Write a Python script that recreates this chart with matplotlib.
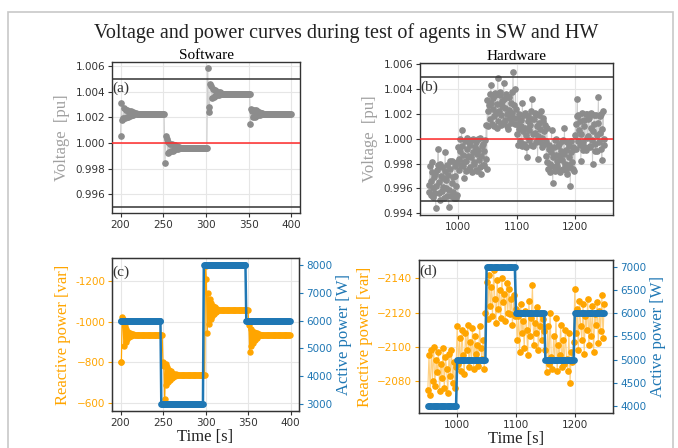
import numpy as np
import matplotlib
matplotlib.use("Agg")
import matplotlib.pyplot as plt
from matplotlib.patches import Rectangle

# ---------------- Software data (1 s samples, t = 200..399) ----------------
sw_time = np.arange(200, 400)
sw_voltage = (
    [1.00057, 1.00310, 1.00175, 1.00190, 1.00270, 1.00190, 1.00260, 1.00200, 1.00255, 1.00205,
     1.00250, 1.00210, 1.00245, 1.00215, 1.00240, 1.00220, 1.00235, 1.00222, 1.00230, 1.00225]
    + [1.00226] * 32
    + [0.99842, 1.00057, 1.00030, 0.99925, 1.00010, 0.99930, 0.99995, 0.99935, 0.99990, 0.99940,
       0.99985, 0.99945, 0.99980, 0.99950, 0.99972, 0.99955, 0.99965, 0.99958]
    + [0.99962] * 32
    + [1.00584, 1.00240, 1.00280, 1.00455, 1.00440, 1.00350, 1.00420, 1.00360, 1.00410, 1.00365,
       1.00405, 1.00370, 1.00400, 1.00375, 1.00395, 1.00378, 1.00390, 1.00380]
    + [1.00384] * 32
    + [1.00148, 1.00265, 1.00250, 1.00200, 1.00260, 1.00205, 1.00255, 1.00210, 1.00250, 1.00215,
       1.00242, 1.00220, 1.00235, 1.00222, 1.00230]
    + [1.00226] * 33
)
sw_reactive = (
    [-800, -800, -1020, -1010, -880, -980, -900, -965, -915, -950,
     -925, -945, -930, -940, -933, -937]
    + [-935] * 34
    + [-800, -780, -620, -790, -690, -775, -705, -765, -715, -757,
       -722, -750, -728, -745, -732, -742]
    + [-738] * 34
    + [-1270, -1210, -945, -1140, -990, -1110, -1010, -1090, -1025, -1078,
       -1035, -1070, -1045, -1063, -1050]
    + [-1055] * 36
    + [-985, -850, -965, -880, -955, -895, -950, -910, -946, -920,
       -942, -928, -938]
    + [-935] * 36
)
sw_active = [6000] * 48 + [3000] * 50 + [8000] * 50 + [6000] * 52

# ---------------- Hardware data ----------------
hw_v_time = np.arange(950, 1251)          # 1 s samples
hw_voltage = [
    # 950-999
    0.9963, 0.9957, 0.9978, 0.9966, 0.9955, 0.9973, 0.9981, 0.9960, 0.9953, 0.9969,
    0.9972, 0.9956, 0.9944, 0.9962, 0.9975, 0.9979, 0.9992, 0.9965, 0.9956, 0.9951,
    0.9980, 0.9970, 0.9958, 0.9977, 0.9968, 0.9961, 0.9952, 0.9974, 0.9989, 0.9967,
    0.9960, 0.9954, 0.9979, 0.9971, 0.9945, 0.9959, 0.9976, 0.9982, 0.9954, 0.9964,
    0.9982, 0.9969, 0.9957, 0.9952, 0.9970, 0.9978, 0.9952, 0.9962, 0.9981, 0.9955,
    # 1000-1049
    0.9993, 0.9984, 0.9975, 0.9990, 1.0000, 0.9979, 1.0007, 0.9994, 0.9978, 0.9987,
    0.9968, 0.9981, 0.9998, 0.9974, 0.9982, 0.9992, 1.0001, 0.9986, 0.9976, 0.9997,
    0.9995, 0.9977, 0.9985, 0.9999, 0.9973, 0.9989, 1.0000, 0.9981, 0.9980, 0.9993,
    0.9997, 0.9975, 0.9974, 0.9988, 0.9991, 1.0000, 0.9983, 0.9977, 1.0001, 0.9986,
    0.9972, 0.9994, 0.9996, 0.9979, 0.9979, 0.9990, 0.9999, 0.9984, 1.0011, 0.9976,
    # 1050-1099
    1.0031, 1.0022, 1.0010, 1.0027, 1.0036, 1.0016, 1.0043, 1.0029, 1.0012, 1.0024,
    1.0033, 1.0010, 1.0018, 1.0035, 1.0037, 1.0021, 1.0009, 1.0028, 1.0049, 1.0014,
    1.0022, 1.0038, 1.0035, 1.0019, 1.0011, 1.0026, 1.0030, 1.0013, 1.0045, 1.0032,
    1.0015, 1.0025, 1.0036, 1.0010, 1.0020, 1.0034, 1.0008, 1.0023, 1.0034, 1.0017,
    1.0013, 1.0029, 1.0038, 1.0021, 1.0054, 1.0027, 1.0017, 1.0012, 1.0040, 1.0024,
    # 1100-1149
    1.0012, 1.0004, 0.9995, 1.0017, 1.0020, 1.0008, 0.9998, 1.0010, 1.0015, 0.9994,
    1.0029, 1.0006, 0.9996, 1.0019, 1.0021, 1.0009, 1.0003, 0.9993, 0.9985, 1.0014,
    1.0018, 1.0007, 0.9999, 1.0011, 1.0022, 0.9995, 1.0032, 1.0016, 0.9994, 1.0004,
    1.0016, 1.0021, 1.0005, 0.9997, 1.0020, 1.0010, 0.9984, 1.0002, 1.0013, 1.0019,
    0.9997, 1.0008, 1.0022, 0.9993, 1.0001, 1.0014, 1.0017, 1.0006, 0.9996, 1.0011,
    # 1150-1199
    0.9998, 0.9986, 1.0009, 0.9981, 0.9976, 0.9992, 0.9995, 0.9973, 0.9980, 0.9989,
    1.0007, 0.9978, 0.9964, 0.9985, 0.9993, 0.9999, 0.9974, 0.9987, 1.0000, 0.9982,
    0.9978, 0.9994, 0.9996, 0.9975, 0.9973, 0.9986, 0.9990, 0.9998, 0.9983, 0.9976,
    0.9999, 0.9988, 1.0009, 0.9980, 0.9975, 0.9991, 0.9997, 0.9972, 0.9979, 0.9985,
    0.9994, 0.9977, 0.9962, 0.9989, 0.9998, 0.9981, 0.9976, 0.9993, 0.9992, 0.9974,
    # 1200-1250
    1.0003, 1.0012, 0.9992, 1.0018, 1.0032, 0.9998, 1.0019, 1.0007, 0.9995, 1.0014,
    0.9982, 1.0004, 1.0021, 0.9991, 0.9997, 1.0010, 1.0015, 0.9993, 0.9991, 1.0020,
    1.0020, 1.0001, 1.0002, 1.0016, 1.0017, 0.9994, 0.9993, 1.0009, 1.0021, 0.9999,
    0.9980, 1.0006, 1.0012, 1.0019, 0.9996, 0.9990, 1.0019, 1.0003, 0.9990, 1.0013,
    1.0034, 0.9997, 1.0005, 1.0018, 1.0020, 0.9992, 0.9983, 1.0008, 1.0022, 1.0000,
    0.9995,
]
hw_q_time = np.arange(950, 1252, 2)       # 2 s samples
hw_reactive = [
    -2075, -2095, -2072, -2098, -2080, -2100, -2077, -2092, -2085, -2097,
    -2074, -2090, -2082, -2099, -2076, -2094, -2087, -2073, -2096, -2083,
    -2098, -2079, -2091, -2076, -2088,
    -2112, -2090, -2105, -2086, -2110, -2095, -2084, -2108, -2098, -2113,
    -2088, -2103, -2092, -2111, -2087, -2106, -2096, -2101, -2089, -2112,
    -2099, -2093, -2104, -2087, -2120,
    -2138, -2116, -2142, -2124, -2135, -2118, -2145, -2128, -2114, -2139,
    -2122, -2133, -2117, -2140, -2126, -2131, -2115, -2137, -2120, -2134,
    -2119, -2128, -2113, -2130, -2118,
    -2122, -2104, -2118, -2097, -2125, -2108, -2115, -2099, -2121, -2110,
    -2095, -2127, -2106, -2117, -2136, -2101, -2114, -2108, -2123, -2098,
    -2112, -2119, -2104, -2116, -2109,
    -2098, -2085, -2112, -2090, -2120, -2094, -2087, -2106, -2092, -2117,
    -2086, -2101, -2095, -2113, -2088, -2104, -2090, -2110, -2093, -2086,
    -2108, -2079, -2097, -2091, -2103,
    -2134, -2108, -2122, -2098, -2127, -2112, -2104, -2125, -2096, -2118,
    -2110, -2128, -2101, -2120, -2106, -2124, -2097, -2119, -2113, -2126,
    -2102, -2121, -2109, -2130, -2105, -2125,
]
hw_active = [4000] * 25 + [5000] * 25 + [7000] * 25 + [6000] * 25 + [5000] * 25 + [6000] * 26

# ---------------- styling ----------------
GRAY = "#8c8c8c"
LGRAY = "#cfcfcf"
ORANGE = "#ffa500"
BLUE = "#1f77b4"
RED = "#ff2a2a"
LABEL_GRAY = "#a0a0a0"
SERIF = ["Liberation Serif", "DejaVu Serif"]
TICK_FS = 7.5

W, H = 678, 448
fig = plt.figure(figsize=(W / 100, H / 100), dpi=100)
fig.patch.set_facecolor("white")

# light frame around the figure
fig.add_artist(Rectangle((8 / W, -0.02), 665 / W, 1 - 12 / H + 0.02,
                         transform=fig.transFigure, fill=False,
                         edgecolor="#c8c8c8", lw=1.2))


def fig_axes(l, t, r, b):
    return fig.add_axes([l / W, 1 - b / H, (r - l) / W, (b - t) / H])


def style(ax, left_color="#333333"):
    ax.grid(True, color="#e6e6e6", lw=0.8)
    ax.set_axisbelow(True)
    for s in ax.spines.values():
        s.set_color("#333333")
        s.set_linewidth(1.0)
    ax.tick_params(axis="x", labelsize=TICK_FS, colors="#333333", length=3, width=0.8, pad=2)
    ax.tick_params(axis="y", labelsize=TICK_FS, colors=left_color, length=3, width=0.8, pad=2)


axa = fig_axes(112, 62, 300, 213)
axb = fig_axes(420, 63, 613, 215)
axc = fig_axes(112, 258, 299, 411)
axd = fig_axes(419, 260, 613, 413)

# ---- (a) Software voltage
style(axa, "#333333")
axa.plot(sw_time, sw_voltage, color=LGRAY, lw=0.8, zorder=2)
axa.plot(sw_time, sw_voltage, "o", color=GRAY, ms=3.8, mec=GRAY, zorder=3)
axa.axhline(1.0, color=RED, lw=1.1, zorder=4)
axa.axhline(1.005, color="#333333", lw=1.1, zorder=4)
axa.axhline(0.995, color="#333333", lw=1.1, zorder=4)
axa.set_xlim(190, 410)
axa.set_ylim(0.99454, 1.0063)
axa.set_xticks([200, 250, 300, 350, 400])
axa.set_yticks([0.996, 0.998, 1.000, 1.002, 1.004, 1.006])
axa.set_yticklabels(["0.996", "0.998", "1.000", "1.002", "1.004", "1.006"])
axa.set_ylabel("Voltage  [pu]", family=SERIF, fontsize=12, color=LABEL_GRAY, labelpad=4)
axa.set_title("Software", family=SERIF, fontsize=11, pad=2)
axa.text(0.0, 0.868, "(a)", transform=axa.transAxes, family=SERIF, fontsize=11,
         color="#333333", va="top", ha="left")

# ---- (b) Hardware voltage
style(axb, "#333333")
axb.plot(hw_v_time, hw_voltage, color=LGRAY, lw=0.7, zorder=2)
axb.plot(hw_v_time, hw_voltage, "o", color=GRAY, ms=3.8, mec=GRAY, zorder=3)
axb.axhline(1.0, color=RED, lw=1.1, zorder=4)
axb.axhline(1.005, color="#333333", lw=1.1, zorder=4)
axb.axhline(0.995, color="#333333", lw=1.1, zorder=4)
axb.set_xlim(935, 1265)
axb.set_ylim(0.99386, 1.0061)
axb.set_xticks([1000, 1100, 1200])
axb.set_yticks([0.994, 0.996, 0.998, 1.000, 1.002, 1.004, 1.006])
axb.set_yticklabels(["0.994", "0.996", "0.998", "1.000", "1.002", "1.004", "1.006"])
axb.set_ylabel("Voltage  [pu]", family=SERIF, fontsize=12, color=LABEL_GRAY, labelpad=4)
axb.set_title("Hardware", family=SERIF, fontsize=11, pad=2)
axb.text(0.0, 0.885, "(b)", transform=axb.transAxes, family=SERIF, fontsize=11,
         color="#333333", va="top", ha="left")

# ---- (c) Software power
style(axc, ORANGE)
axc.plot(sw_time, sw_reactive, color=ORANGE, lw=0.9, zorder=2)
axc.plot(sw_time, sw_reactive, "o", color=ORANGE, ms=3.6, zorder=3)
axc.set_xlim(190, 410)
axc.set_ylim(-562, -1311)
axc.set_xticks([200, 250, 300, 350, 400])
axc.set_yticks([-600, -800, -1000, -1200])
axc.set_yticklabels(["\u2212600", "\u2212800", "-1000", "-1200"])
axc.set_ylabel("Reactive power [var]", family=SERIF, fontsize=12, color=ORANGE, labelpad=3)
axc.set_xlabel("Time [s]", family=SERIF, fontsize=12, color="#222222", labelpad=1)
axc2 = axc.twinx()
axc2.plot(sw_time, sw_active, color=BLUE, lw=1.8, zorder=3)
axc2.plot(sw_time, sw_active, "o", color=BLUE, ms=3.8, zorder=3)
axc2.set_ylim(2750, 8250)
axc2.set_yticks([3000, 4000, 5000, 6000, 7000, 8000])
axc2.tick_params(axis="y", labelsize=TICK_FS, colors=BLUE, length=3, width=0.8, pad=2)
for s in axc2.spines.values():
    s.set_color("#333333")
axc2.set_ylabel("Active power [W]", family=SERIF, fontsize=12, color=BLUE, labelpad=3)
axc.text(0.0, 0.95, "(c)", transform=axc.transAxes, family=SERIF, fontsize=11,
         color="#333333", va="top", ha="left", zorder=10)

# ---- (d) Hardware power
style(axd, ORANGE)
axd.plot(hw_q_time, hw_reactive, color="#ffd080", lw=0.8, zorder=2)
axd.plot(hw_q_time, hw_reactive, "o", color=ORANGE, ms=3.8, zorder=3)
axd.set_xlim(935, 1265)
axd.set_ylim(-2061.3, -2150.7)
axd.set_xticks([1000, 1100, 1200])
axd.set_yticks([-2080, -2100, -2120, -2140])
axd.set_yticklabels(["\u22122080", "\u22122100", "\u22122120", "\u22122140"])
axd.set_ylabel("Reactive power [var]", family=SERIF, fontsize=12, color=ORANGE, labelpad=3)
axd.set_xlabel("Time [s]", family=SERIF, fontsize=12, color="#222222", labelpad=1)
axd2 = axd.twinx()
axd2.plot(hw_q_time, hw_active, color=BLUE, lw=1.8, zorder=3)
axd2.plot(hw_q_time, hw_active, "o", color=BLUE, ms=3.8, zorder=3)
axd2.set_ylim(3850, 7150)
axd2.set_yticks([4000, 4500, 5000, 5500, 6000, 6500, 7000])
axd2.tick_params(axis="y", labelsize=TICK_FS, colors=BLUE, length=3, width=0.8, pad=2)
for s in axd2.spines.values():
    s.set_color("#333333")
axd2.set_ylabel("Active power [W]", family=SERIF, fontsize=12, color=BLUE, labelpad=3)
axd.text(0.0, 0.97, "(d)", transform=axd.transAxes, family=SERIF, fontsize=11,
         color="#333333", va="top", ha="left", zorder=10)

fig.text(0.51, 0.926, "Voltage and power curves during test of agents in SW and HW",
         family=SERIF, fontsize=14.5, ha="center", va="center", color="#222222")

fig.savefig("out.png", dpi=100)
